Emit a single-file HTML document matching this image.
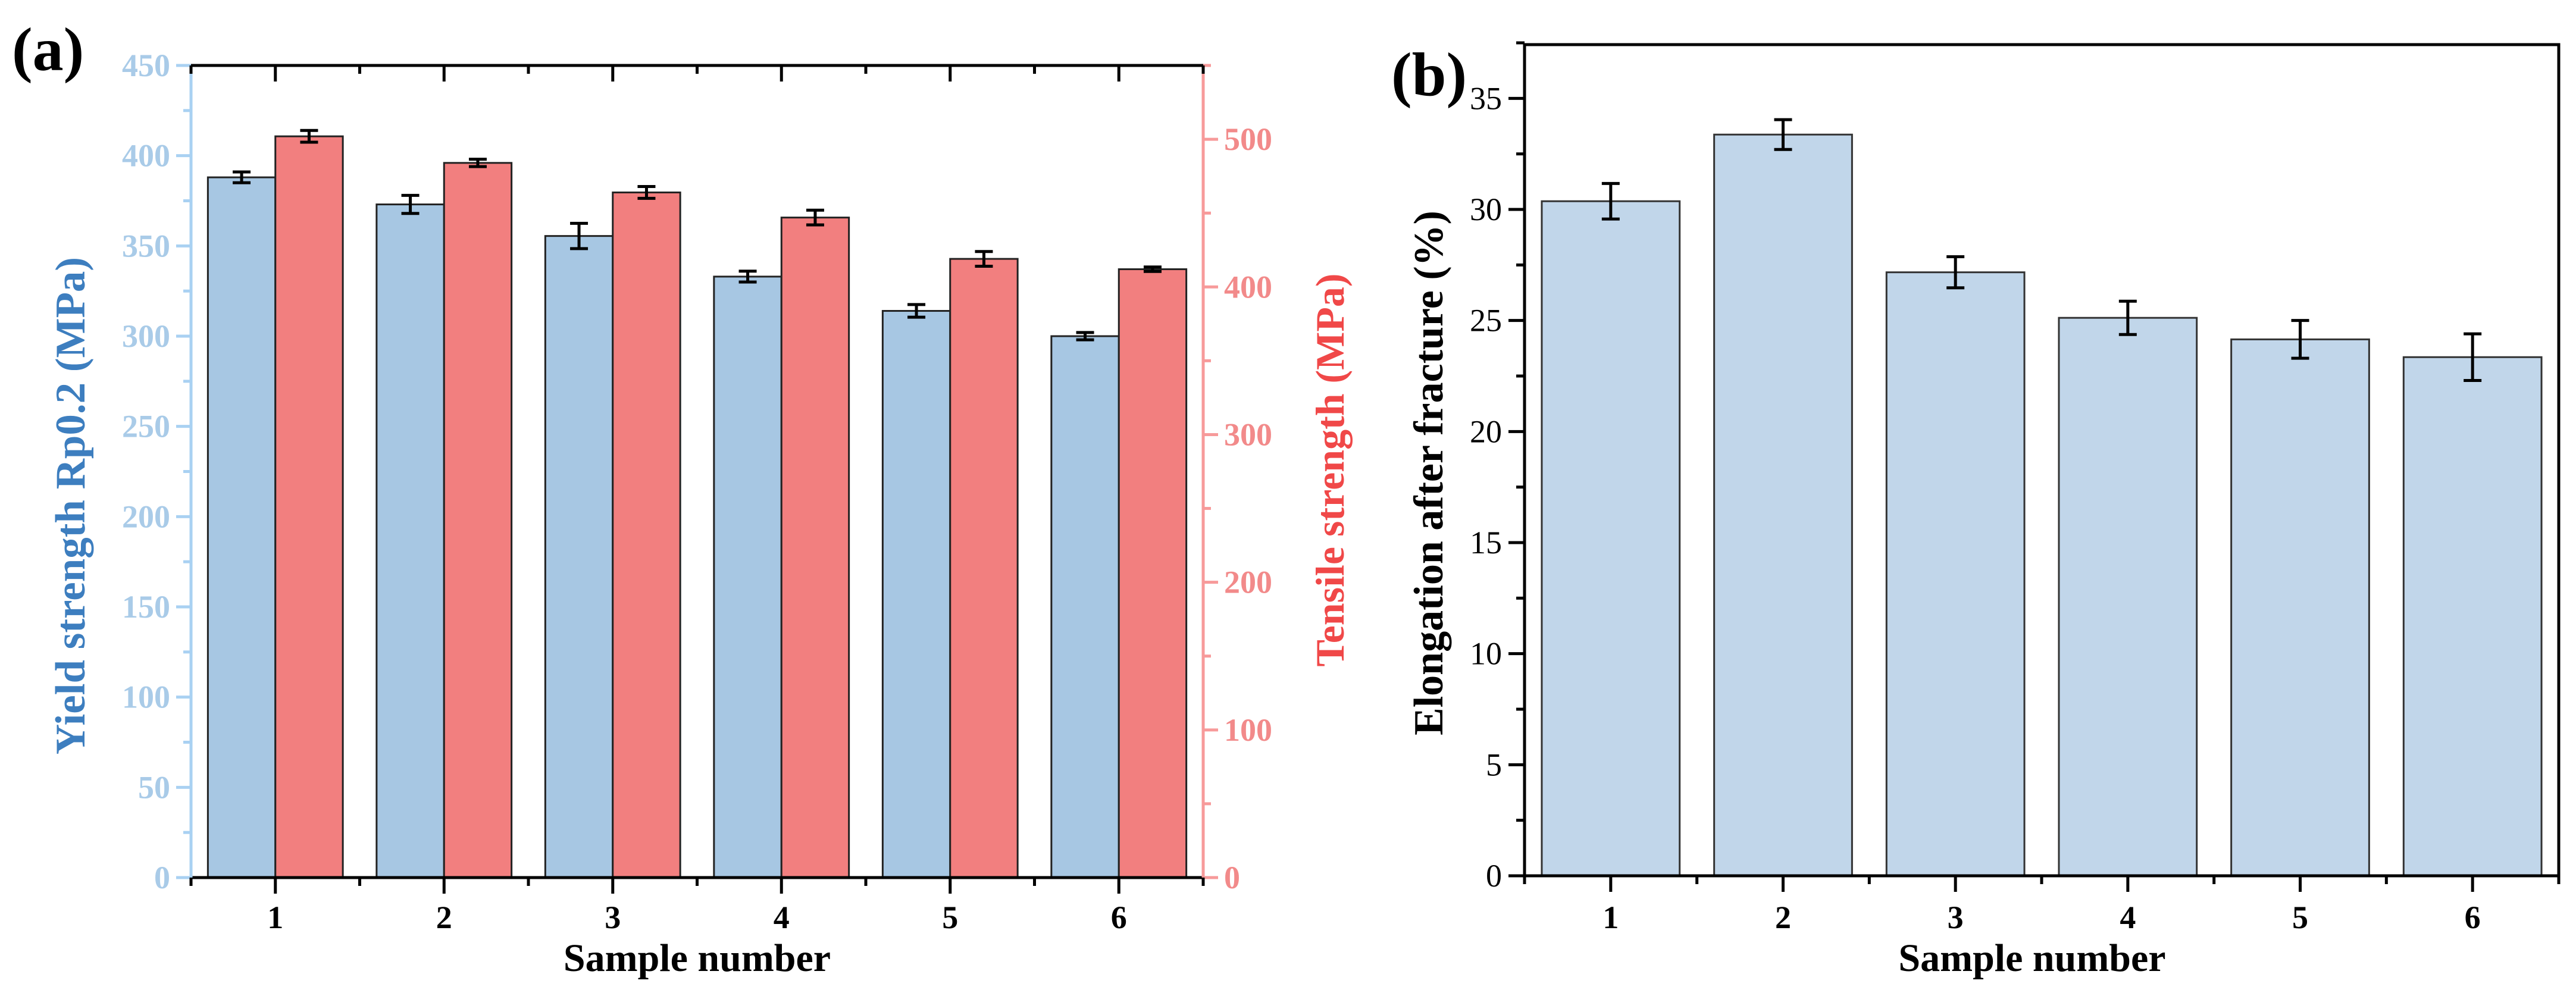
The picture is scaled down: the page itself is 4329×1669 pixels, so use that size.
<!DOCTYPE html>
<html><head><meta charset="utf-8"><style>
html,body{margin:0;padding:0;background:#fff;}
svg{display:block;font-family:"Liberation Serif",serif;}
</style></head><body>
<svg id="chart" width="4329" height="1669" viewBox="0 0 4329 1669" xmlns="http://www.w3.org/2000/svg"></svg>
<script>
const categories = ["1","2","3","4","5","6"];
const yieldValues = [388, 373, 355.5, 333, 314, 300];
const yieldErrors = [3, 5, 7, 3, 3.5, 2];
const tensileValues = [502, 484, 464, 447, 419, 412];
const tensileErrors = [4, 2.5, 4, 5, 5, 1.5];
const elongValues = [30.37, 33.37, 27.17, 25.12, 24.15, 23.35];
const elongErrors = [0.8, 0.67, 0.7, 0.75, 0.85, 1.05];
const yieldTicks = [0,50,100,150,200,250,300,350,400,450];
const tensileTicks = [0,100,200,300,400,500];
const elongTicks = [0,5,10,15,20,25,30,35];

const NS="http://www.w3.org/2000/svg";
const svg=document.getElementById('chart');
function el(tag,attrs,parent,text){const e=document.createElementNS(NS,tag);for(const k in attrs)e.setAttribute(k,attrs[k]);if(text!==undefined)e.textContent=text;(parent||svg).appendChild(e);return e;}

// ---------- Panel A ----------
const A={x0:321,x1:2022,yTop:110,yBot:1475};
const ax=v=>A.x0+(v-0.5)/6*(A.x1-A.x0);
const ayL=v=>A.yBot-v/450*(A.yBot-A.yTop);
const ayR=v=>A.yBot-v/550*(A.yBot-A.yTop);
const gA=el('g',{});


const bw=0.4*(A.x1-A.x0)/6;
categories.forEach((c,i)=>{
  const cx=ax(i+1);
  let r=el('rect',{x:cx-bw,y:ayL(yieldValues[i]),width:bw,height:A.yBot-ayL(yieldValues[i]),fill:'#a7c7e3',stroke:'#222',"stroke-width":3},gA);
  
  
  r=el('rect',{x:cx,y:ayR(tensileValues[i]),width:bw,height:A.yBot-ayR(tensileValues[i]),fill:'#f27f7f',stroke:'#222',"stroke-width":3},gA);
  
  
  [[cx-bw/2,ayL,yieldValues[i],yieldErrors[i]],[cx+bw/2,ayR,tensileValues[i],tensileErrors[i]]].forEach(([x,f,v,e])=>{
    const g=el('g',{stroke:'#000',"stroke-width":5,fill:'none'},gA);
    
    
    el('line',{x1:x,x2:x,y1:f(v+e),y2:f(v-e)},g);
    el('line',{x1:x-15,x2:x+15,y1:f(v+e),y2:f(v+e)},g);
    el('line',{x1:x-15,x2:x+15,y1:f(v-e),y2:f(v-e)},g);
  });
});
el('line',{x1:A.x0,x2:A.x1,y1:A.yTop,y2:A.yTop,stroke:'#000',"stroke-width":5},gA);
el('line',{x1:A.x0,x2:A.x1,y1:A.yBot,y2:A.yBot,stroke:'#000',"stroke-width":5},gA);
el('line',{x1:A.x0,x2:A.x0,y1:A.yTop,y2:A.yBot,stroke:'#a9d1f2',"stroke-width":5},gA);
el('line',{x1:A.x1,x2:A.x1,y1:A.yTop,y2:A.yBot,stroke:'#f79a9a',"stroke-width":5},gA);
yieldTicks.forEach(t=>{
  const y=ayL(t);
  el('line',{x1:A.x0-25,x2:A.x0,y1:y,y2:y,stroke:'#a9d1f2',"stroke-width":5},gA);
  if(t<450) el('line',{x1:A.x0-13,x2:A.x0,y1:ayL(t+25),y2:ayL(t+25),stroke:'#a9d1f2',"stroke-width":5},gA);
  const tx=el('text',{x:A.x0-35,y:y+18,"text-anchor":"end","font-size":54,"font-weight":"bold",fill:'#a9cbe8'},gA,String(t));
  
  
});
tensileTicks.forEach(t=>{
  const y=ayR(t);
  el('line',{x1:A.x1,x2:A.x1+25,y1:y,y2:y,stroke:'#f79a9a',"stroke-width":5},gA);
  el('line',{x1:A.x1,x2:A.x1+13,y1:ayR(t+50),y2:ayR(t+50),stroke:'#f79a9a',"stroke-width":5},gA);
  const tx=el('text',{x:A.x1+35,y:y+18,"text-anchor":"start","font-size":54,"font-weight":"bold",fill:'#f28a8a'},gA,String(t));
  
  
});
for(let k=0;k<=12;k++){
  const v=0.5+k*0.5,x=ax(v),maj=(k%2===1);
  el('line',{x1:x,x2:x,y1:A.yBot,y2:A.yBot+(maj?27:14),stroke:'#000',"stroke-width":5},gA);
  el('line',{x1:x,x2:x,y1:A.yTop,y2:A.yTop+(maj?27:14),stroke:'#000',"stroke-width":5},gA);
}
categories.forEach((c,i)=>{
  const tx=el('text',{x:ax(i+1),y:1560,"text-anchor":"middle","font-size":54,"font-weight":"bold",fill:'#000'},gA,c);
  
  
});
let t=el('text',{x:(A.x0+A.x1)/2,y:1632,"text-anchor":"middle","font-size":66,"font-weight":"bold"},gA,'Sample number');

t=el('text',{x:0,y:0,"text-anchor":"middle","font-size":71,"font-weight":"bold",fill:'#3d7ebf',transform:'translate(142,850) rotate(-90)'},gA,'Yield strength Rp0.2 (MPa)');

t=el('text',{x:0,y:0,"text-anchor":"middle","font-size":68,"font-weight":"bold",fill:'#f04848',transform:'translate(2258,790) rotate(-90)'},gA,'Tensile strength (MPa)');

t=el('text',{x:20,y:118,"font-size":104,"font-weight":"bold"},gA,'(a)');


// ---------- Panel B ----------
const B={x0:2562,x1:4300,yTop:75,yBot:1472};
const bx=v=>B.x0+(v-0.5)/6*(B.x1-B.x0);
const by=v=>B.yBot-v/37.42*(B.yBot-B.yTop);
const gB=el('g',{});


const bw2=0.8*(B.x1-B.x0)/6;
categories.forEach((c,i)=>{
  const cx=bx(i+1);
  const r=el('rect',{x:cx-bw2/2,y:by(elongValues[i]),width:bw2,height:B.yBot-by(elongValues[i]),fill:'#c1d6ea',stroke:'#333',"stroke-width":3},gB);
  
  
  const v=elongValues[i],e=elongErrors[i];
  const g=el('g',{stroke:'#000',"stroke-width":5,fill:'none'},gB);
  
  
  el('line',{x1:cx,x2:cx,y1:by(v+e),y2:by(v-e)},g);
  el('line',{x1:cx-15,x2:cx+15,y1:by(v+e),y2:by(v+e)},g);
  el('line',{x1:cx-15,x2:cx+15,y1:by(v-e),y2:by(v-e)},g);
});
el('rect',{x:B.x0,y:B.yTop,width:B.x1-B.x0,height:B.yBot-B.yTop,fill:'none',stroke:'#000',"stroke-width":5},gB);
elongTicks.forEach(tk=>{
  const y=by(tk);
  el('line',{x1:B.x0-27,x2:B.x0,y1:y,y2:y,stroke:'#000',"stroke-width":5},gB);
  el('line',{x1:B.x0-14,x2:B.x0,y1:by(tk+2.5),y2:by(tk+2.5),stroke:'#000',"stroke-width":5},gB);
  const tx=el('text',{x:B.x0-38,y:y+18,"text-anchor":"end","font-size":54,fill:'#000'},gB,String(tk));
  
  
});
for(let k=0;k<=12;k++){
  const v=0.5+k*0.5,x=bx(v),maj=(k%2===1);
  el('line',{x1:x,x2:x,y1:B.yBot,y2:B.yBot+(maj?27:14),stroke:'#000',"stroke-width":5},gB);
}
categories.forEach((c,i)=>{
  const tx=el('text',{x:bx(i+1),y:1560,"text-anchor":"middle","font-size":54,"font-weight":"bold",fill:'#000'},gB,c);
  
  
});
t=el('text',{x:3415,y:1632,"text-anchor":"middle","font-size":66,"font-weight":"bold"},gB,'Sample number');

t=el('text',{x:0,y:0,"text-anchor":"middle","font-size":70,"font-weight":"bold",fill:'#000',transform:'translate(2424,795) rotate(-90)'},gB,'Elongation after fracture (%)');

t=el('text',{x:2338,y:160,"font-size":104,"font-weight":"bold"},gB,'(b)');

</script>
</body></html>
